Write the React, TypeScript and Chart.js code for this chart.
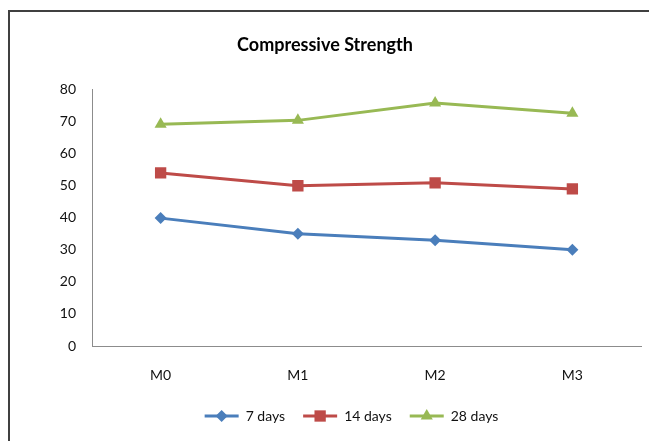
import React, { useEffect, useRef } from "react";
import { Chart, registerables } from "chart.js";

Chart.register(...registerables);

const categories = ["M0", "M1", "M2", "M3"];
const days7 = [39.9, 35, 33, 30];
const days14 = [54, 50, 50.9, 49];
const days28 = [69.2, 70.4, 75.8, 72.6];
const seriesNames = ["7 days", "14 days", "28 days"];
const seriesColors = ["#4A7EBB", "#BE4B48", "#98B954"];
const seriesMarkers = ["rectRot", "rect", "triangle"];
const seriesRadius = [6, 8, 7];
const titleText = "Compressive Strength";
const yMin = 0;
const yMax = 80;
const yStep = 10;

const FONT = "Lato, 'Open Sans', sans-serif";
const LEGEND_BOX_W = 34;
const LEGEND_CENTER_X = 351.5;
const TITLE_CENTER_X = 325;

function drawMarker(ctx: CanvasRenderingContext2D, style: string, r: number, x: number, y: number, color: string) {
  ctx.save();
  ctx.fillStyle = color;
  ctx.beginPath();
  if (style === "rectRot") {
    ctx.moveTo(x, y - r);
    ctx.lineTo(x + r, y);
    ctx.lineTo(x, y + r);
    ctx.lineTo(x - r, y);
  } else if (style === "rect") {
    const s = r * Math.SQRT1_2;
    ctx.rect(x - s, y - s, 2 * s, 2 * s);
  } else {
    let a = 0;
    ctx.moveTo(x + Math.sin(a) * r, y - Math.cos(a) * r);
    a += (2 * Math.PI) / 3;
    ctx.lineTo(x + Math.sin(a) * r, y - Math.cos(a) * r);
    a += (2 * Math.PI) / 3;
    ctx.lineTo(x + Math.sin(a) * r, y - Math.cos(a) * r);
  }
  ctx.closePath();
  ctx.fill();
  ctx.restore();
}

const layoutTweaks = {
  id: "layoutTweaks",
  afterUpdate(chart: any) {
    const lg = chart.legend;
    if (lg && lg.legendHitBoxes) {
      const d = LEGEND_CENTER_X - (lg.left + lg.right) / 2;
      lg.left += d;
      lg.right += d;
      lg.legendHitBoxes.forEach((h: any) => {
        h.left += d;
      });
    }
    const t = chart.titleBlock;
    if (t) {
      const d = TITLE_CENTER_X - (t.left + t.right) / 2;
      t.left += d;
      t.right += d;
    }
  },
  afterDraw(chart: any) {
    const lg = chart.legend;
    if (!lg || !lg.legendHitBoxes) return;
    const ctx = chart.ctx;
    lg.legendHitBoxes.forEach((hb: any, i: number) => {
      const ds = chart.data.datasets[i];
      if (!ds) return;
      const x = hb.left + LEGEND_BOX_W / 2;
      const y = hb.top + hb.height / 2;
      drawMarker(ctx, ds.pointStyle, ds.pointRadius, x, y, ds.borderColor);
    });
  },
};

export default function App() {
  const ref = useRef<HTMLCanvasElement | null>(null);

  useEffect(() => {
    document.documentElement.style.overflow = "hidden";
    document.body.style.overflow = "hidden";
    if (!ref.current) return;
    const all = [days7, days14, days28];
    const chart = new Chart(ref.current, {
      type: "line",
      data: {
        labels: categories,
        datasets: all.map((d, i) => ({
          label: seriesNames[i],
          data: d,
          borderColor: seriesColors[i],
          backgroundColor: seriesColors[i],
          borderWidth: 3,
          pointStyle: seriesMarkers[i] as any,
          pointRadius: seriesRadius[i],
          pointBorderWidth: 0,
          pointBackgroundColor: seriesColors[i],
          tension: 0,
        })),
      },
      options: {
        responsive: false,
        animation: false,
        events: [],
        layout: { padding: { left: 0, right: 6, top: 0, bottom: 8 } },
        plugins: {
          tooltip: { enabled: false },
          title: {
            display: true,
            text: titleText,
            color: "#000",
            font: { family: FONT, size: 18, weight: "bold" },
            padding: { top: 34, bottom: 34 },
          },
          legend: {
            display: true,
            position: "bottom",
            labels: {
              color: "#111",
              font: { family: FONT, size: 14 },
              boxWidth: LEGEND_BOX_W,
              boxHeight: 3,
              padding: 18,
              generateLabels: (c: any) => {
                const base = Chart.defaults.plugins.legend.labels.generateLabels(c);
                return base.map((it: any) => ({ ...it, lineWidth: 0 }));
              },
            },
          },
        },
        scales: {
          x: {
            offset: true,
            grid: { display: true, drawOnChartArea: false, drawTicks: false },
            border: { display: true, color: "#8c8c8c", width: 1 },
            ticks: { color: "#111", font: { family: FONT, size: 14 }, padding: 21 },
            afterFit: (s: any) => {
              s.height = 45;
            },
          },
          y: {
            min: yMin,
            max: yMax,
            grid: { display: true, drawOnChartArea: false, drawTicks: false },
            border: { display: true, color: "#8c8c8c", width: 1 },
            ticks: { stepSize: yStep, color: "#111", font: { family: FONT, size: 14 }, padding: 16 },
            afterFit: (s: any) => {
              s.width = 92;
            },
          },
        },
      },
      plugins: [layoutTweaks],
    });
    return () => chart.destroy();
  }, []);

  return (
    <div style={{ position: "fixed", left: 0, top: 0, width: 649, height: 441, overflow: "hidden", background: "#fff" }}>
      <canvas
        ref={ref}
        width={649}
        height={441}
        style={{ position: "absolute", left: 0, top: 0, width: 649, height: 441 }}
      />
      <div style={{ position: "absolute", left: 8, top: 10, width: 641, height: 2, background: "#404040" }} />
      <div style={{ position: "absolute", left: 8, top: 10, width: 2, height: 431, background: "#404040" }} />
    </div>
  );
}
